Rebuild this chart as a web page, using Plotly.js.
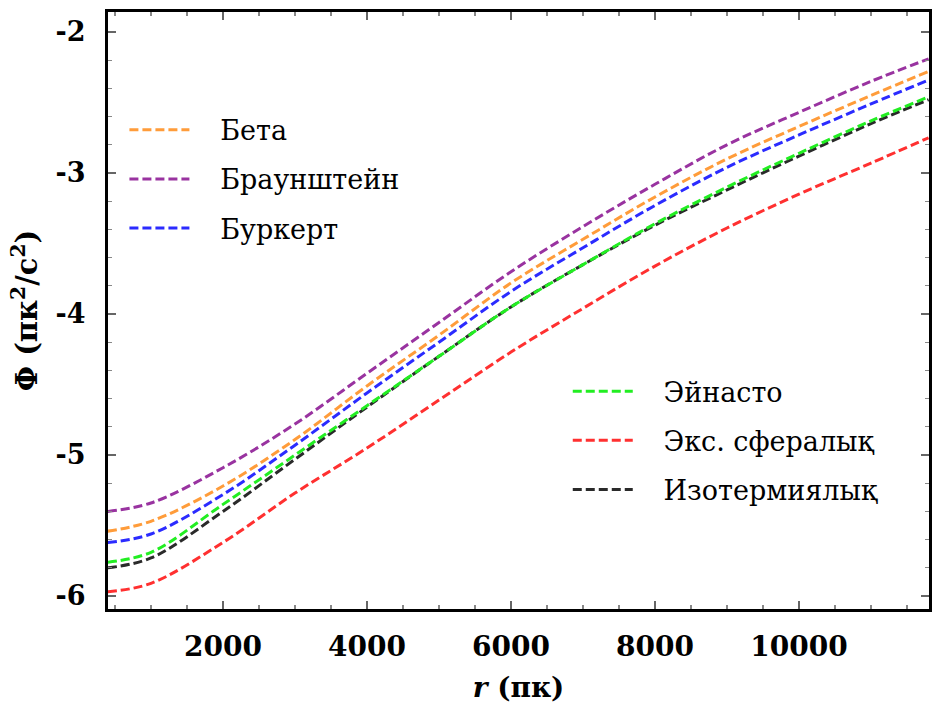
<!DOCTYPE html>
<html>
<head>
<meta charset="utf-8">
<script src="https://cdn.plot.ly/plotly-3.0.1.min.js"></script>
<style>html,body{margin:0;padding:0;background:#fff;}#chart{width:932px;height:715px;}</style>
</head>
<body>
<div id="chart"></div>
<script>
// radius, pc
const r = [400, 1000, 2000, 3000, 4000, 5000, 6000, 7000, 8000, 9000, 10000, 11000, 11800];
// potential values for each profile
const beta       = [-5.54, -5.47, -5.22, -4.89, -4.51, -4.15, -3.78, -3.47, -3.17, -2.90, -2.67, -2.45, -2.28];
const braunstein = [-5.40, -5.34, -5.09, -4.78, -4.42, -4.06, -3.70, -3.38, -3.08, -2.80, -2.57, -2.35, -2.19];
const burkert    = [-5.62, -5.56, -5.28, -4.93, -4.56, -4.20, -3.84, -3.53, -3.23, -2.96, -2.73, -2.51, -2.34];
const einasto    = [-5.76, -5.69, -5.35, -5.00, -4.65, -4.30, -3.95, -3.65, -3.36, -3.10, -2.86, -2.63, -2.46];
const expSpher   = [-5.97, -5.91, -5.62, -5.27, -4.95, -4.61, -4.27, -3.96, -3.66, -3.39, -3.15, -2.93, -2.75];
const isotherm   = [-5.80, -5.73, -5.40, -5.03, -4.66, -4.30, -3.95, -3.65, -3.37, -3.12, -2.88, -2.65, -2.48];

const names = ['Бета', 'Браунштейн', 'Буркерт', 'Эйнасто', 'Экс. сфералық', 'Изотермиялық'];
const seriesList = [beta, braunstein, burkert, einasto, expSpher, isotherm];
const colors = ['#FF9C3A', '#9933A0', '#2B2BFF', '#22EE22', '#FF3030', '#2A2A2A'];
const legendIds = ['legend', 'legend', 'legend', 'legend2', 'legend2', 'legend2'];

const xTickVals = [2000, 4000, 6000, 8000, 10000];
const xTickText = ['2000', '4000', '6000', '8000', '10000'];
const yTickVals = [-6, -5, -4, -3, -2];
const yTickText = ['-6', '-5', '-4', '-3', '-2'];

const pad = '\u00A0\u00A0\u00A0';
const traces = seriesList.map((s, i) => ({
  x: r, y: s, type: 'scatter', mode: 'lines', name: pad + names[i],
  line: {color: colors[i], width: 3, dash: '9px,4px', shape: 'spline'},
  legend: legendIds[i], legendgroup: 'g' + i, legendrank: i + 1
}));
// drawing order: green on top of black, as in the reference
const order = [5, 4, 2, 0, 1, 3];
const data = order.map(i => traces[i]);

const serif = '"DejaVu Serif", serif';
const xTickFont = {family: serif, size: 28, color: '#000', weight: 'bold'};
const yTickFont = {family: serif, size: 27, color: '#000', weight: 'bold'};
const legFont = {family: serif, size: 27, color: '#000'};

const layout = {
  width: 932, height: 715,
  margin: {l: 108, r: 3, t: 12, b: 106},
  paper_bgcolor: '#fff', plot_bgcolor: '#fff',
  showlegend: true,
  xaxis: {
    range: [403, 11806], tickvals: xTickVals, ticktext: xTickText,
    ticks: 'inside', ticklen: 8, tickwidth: 1.5, tickcolor: '#666',
    minor: {dtick: 500, tick0: 0, ticks: 'inside', ticklen: 4, tickwidth: 1.2, tickcolor: '#888'},
    showline: true, linecolor: '#000', linewidth: 3, mirror: 'ticks',
    showgrid: false, zeroline: false,
    tickfont: xTickFont, ticklabelstandoff: 10,
    title: {text: '<i>r</i> (пк)', font: {family: serif, size: 28, color: '#000', weight: 'bold'}, standoff: 16}
  },
  yaxis: {
    range: [-6.092, -1.858], tickvals: yTickVals, ticktext: yTickText,
    ticks: 'inside', ticklen: 8, tickwidth: 1.5, tickcolor: '#666',
    minor: {dtick: 0.2, tick0: 0, ticks: 'inside', ticklen: 4, tickwidth: 1.2, tickcolor: '#888'},
    showline: true, linecolor: '#000', linewidth: 3, mirror: 'ticks',
    showgrid: false, zeroline: false,
    tickfont: yTickFont, ticklabelstandoff: 14,
    title: {text: 'Φ (пк<sup>2</sup>/с<sup>2</sup>)', font: {family: serif, size: 29, color: '#000', weight: 'bold'}, standoff: 10}
  },
  legend: {
    x: 0.02, y: 0.843, xanchor: 'left', yanchor: 'top',
    bgcolor: 'rgba(0,0,0,0)', font: legFont, itemwidth: 60,
    traceorder: 'grouped', tracegroupgap: 11
  },
  legend2: {
    x: 0.56, y: 0.405, xanchor: 'left', yanchor: 'top',
    bgcolor: 'rgba(0,0,0,0)', font: legFont, itemwidth: 60,
    traceorder: 'grouped', tracegroupgap: 11
  }
};

Plotly.newPlot('chart', data, layout, {displayModeBar: false, staticPlot: true});
</script>
</body>
</html>
